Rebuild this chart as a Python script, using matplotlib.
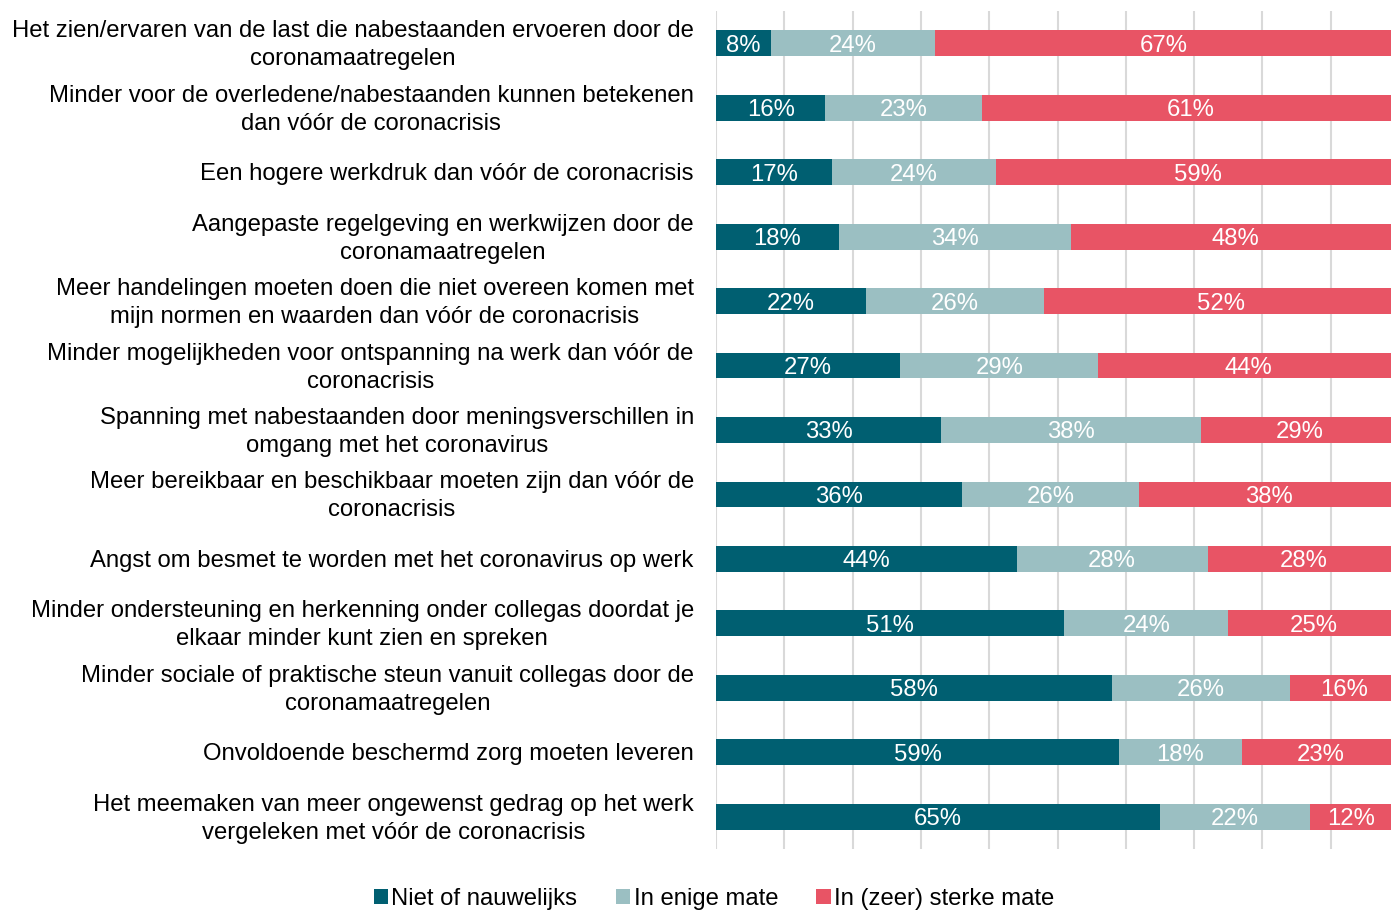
import matplotlib
matplotlib.use("Agg")
import matplotlib.pyplot as plt
import matplotlib.transforms as mtransforms
import numpy as np

plt.rcParams['font.family'] = ['Liberation Sans', 'DejaVu Sans']

categories = [
    "Het zien/ervaren van de last die nabestaanden ervoeren door de\ncoronamaatregelen",
    "Minder voor de overledene/nabestaanden kunnen betekenen\ndan vóór de coronacrisis",
    "Een hogere werkdruk dan vóór de coronacrisis",
    "Aangepaste regelgeving en werkwijzen door de\ncoronamaatregelen",
    "Meer handelingen moeten doen die niet overeen komen met\nmijn normen en waarden dan vóór de coronacrisis",
    "Minder mogelijkheden voor ontspanning na werk dan vóór de\ncoronacrisis",
    "Spanning met nabestaanden door meningsverschillen in\nomgang met het coronavirus",
    "Meer bereikbaar en beschikbaar moeten zijn dan vóór de\ncoronacrisis",
    "Angst om besmet te worden met het coronavirus op werk",
    "Minder ondersteuning en herkenning onder collegas doordat je\nelkaar minder kunt zien en spreken",
    "Minder sociale of praktische steun vanuit collegas door de\ncoronamaatregelen",
    "Onvoldoende beschermd zorg moeten leveren",
    "Het meemaken van meer ongewenst gedrag op het werk\nvergeleken met vóór de coronacrisis",
]
niet = [8, 16, 17, 18, 22, 27, 33, 36, 44, 51, 58, 59, 65]
enige = [24, 23, 24, 34, 26, 29, 38, 26, 28, 24, 26, 18, 22]
sterk = [67, 61, 59, 48, 52, 44, 29, 38, 28, 25, 16, 23, 12]
series_names = ["Niet of nauwelijks", "In enige mate", "In (zeer) sterke mate"]
colors = ["#005F71", "#9BBFC2", "#E85465"]

W, H = 1391, 910
fig = plt.figure(figsize=(W / 100, H / 100), dpi=100)
left, right, top, bottom = 716, 1399, 11, 849
ax = fig.add_axes([left / W, (H - bottom) / H, (right - left) / W, (bottom - top) / H])

FS = 17.2
y = np.arange(len(categories))
data = [niet, enige, sterk]
starts = np.zeros(len(categories))
for vals, name, col in zip(data, series_names, colors):
    vals = np.array(vals, dtype=float)
    ax.barh(y, vals, left=starts, height=0.4, color=col, label=name, zorder=3)
    for yi, s, v in zip(y, starts, vals):
        ax.text(s + v / 2, yi, f"{int(v)}%", ha="center", va="center_baseline",
                color="white", fontsize=FS, zorder=4)
    starts += vals

ax.set_xlim(0, 100)
ax.set_ylim(len(categories) - 0.5, -0.5)
ax.set_xticks(np.arange(0, 101, 10))
ax.xaxis.grid(True, color="#D9D9D9", linewidth=1.5, zorder=0)
ax.tick_params(axis="x", length=0, labelbottom=False)
ax.tick_params(axis="y", length=0, pad=16)
ax.set_yticks(y)
ax.set_yticklabels(categories, fontsize=FS, multialignment="center", linespacing=1.35,
                   va="center")
shift = mtransforms.ScaledTranslation(0, -2 / 100, fig.dpi_scale_trans)
for lab in ax.get_yticklabels():
    lab.set_transform(lab.get_transform() + shift)
for s in ax.spines.values():
    s.set_visible(False)

handles, labels = ax.get_legend_handles_labels()
fig.legend(handles, labels, loc="center", bbox_to_anchor=(714 / W, 1 - 899 / H), ncol=3,
           frameon=False, fontsize=FS, handlelength=0.6, handleheight=0.6,
           handletextpad=0.15, columnspacing=1.6, borderaxespad=0)

fig.savefig("out.png", dpi=100)
